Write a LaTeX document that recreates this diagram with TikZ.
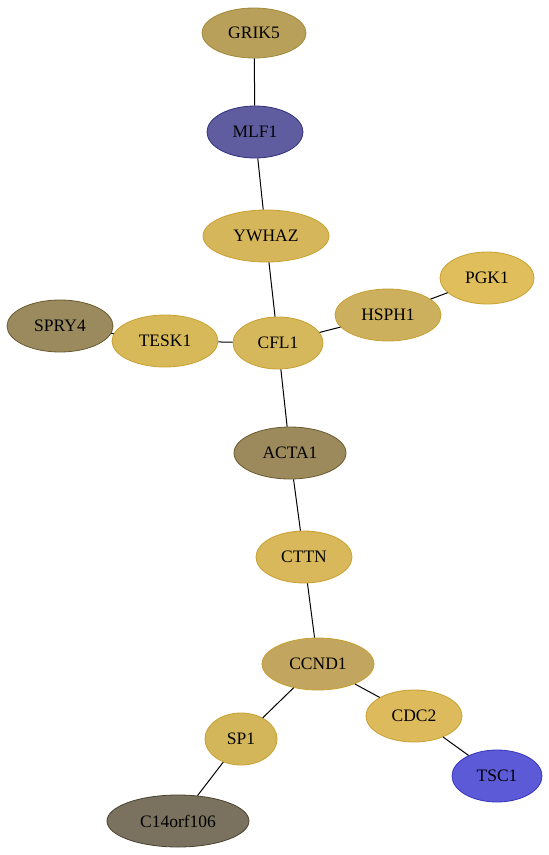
\documentclass[tikz,border=0pt]{standalone}
\usepackage{fontspec}
\setmainfont{Liberation Serif}
\usetikzlibrary{shapes.geometric}
\begin{document}
\begin{tikzpicture}[x=1pt,y=-1pt,
  gene/.style={ellipse,draw,line width=0.8pt,inner sep=0pt,font=\fontsize{17.5}{19}\selectfont},
  edge/.style={draw=black,line width=1pt}]
\useasboundingbox (0,0) rectangle (549,855);
\definecolor{cGRIK}{HTML}{B8A05A}\definecolor{bGRIK}{HTML}{A08838}
\definecolor{cMLF}{HTML}{5F5DA0}\definecolor{bMLF}{HTML}{30307E}
\definecolor{cY}{HTML}{D6B65A}\definecolor{bY}{HTML}{C8A030}
\definecolor{cPGK}{HTML}{E0BE5C}\definecolor{cHSP}{HTML}{CDB05E}
\definecolor{cSPRY}{HTML}{9A8A5E}\definecolor{bSPRY}{HTML}{6A5A30}
\definecolor{cTESK}{HTML}{D8B95A}\definecolor{cCFL}{HTML}{D6B85C}
\definecolor{cACTA}{HTML}{9C8A5C}\definecolor{cCTTN}{HTML}{D8B85A}
\definecolor{cCCND}{HTML}{C2A55E}\definecolor{cCDC}{HTML}{DDBB5C}
\definecolor{cSP}{HTML}{D4B65A}\definecolor{cTSC}{HTML}{5C5AD6}\definecolor{bTSC}{HTML}{3535C0}
\definecolor{cC14}{HTML}{7A725E}\definecolor{bC14}{HTML}{4A4230}
\node[gene,fill=cGRIK,draw=bGRIK,minimum width=104,minimum height=50] (GRIK5) at (254,33) {GRIK5};
\node[gene,fill=cMLF,draw=bMLF,minimum width=96,minimum height=52] (MLF1) at (255,132) {MLF1};
\node[gene,fill=cY,draw=bY,minimum width=126,minimum height=52] (YWHAZ) at (266,236) {YWHAZ};
\node[gene,fill=cPGK,draw=bY,minimum width=94,minimum height=52] (PGK1) at (487,278) {PGK1};
\node[gene,fill=cHSP,draw=bY,minimum width=106,minimum height=52] (HSPH1) at (388,315) {HSPH1};
\node[gene,fill=cSPRY,draw=bSPRY,minimum width=106,minimum height=52] (SPRY4) at (60,326) {SPRY4};
\node[gene,fill=cTESK,draw=bY,minimum width=106,minimum height=52] (TESK1) at (165,341) {TESK1};
\node[gene,fill=cCFL,draw=bY,minimum width=90,minimum height=52] (CFL1) at (278,343) {CFL1};
\node[gene,fill=cACTA,draw=bSPRY,minimum width=112,minimum height=52] (ACTA1) at (290,453) {ACTA1};
\node[gene,fill=cCTTN,draw=bY,minimum width=96,minimum height=52] (CTTN) at (304,557) {CTTN};
\node[gene,fill=cCCND,draw=bY,minimum width=112,minimum height=52] (CCND1) at (318,664) {CCND1};
\node[gene,fill=cCDC,draw=bY,minimum width=96,minimum height=52] (CDC2) at (414,716) {CDC2};
\node[gene,fill=cSP,draw=bY,minimum width=72,minimum height=52] (SP1) at (241,739) {SP1};
\node[gene,fill=cTSC,draw=bTSC,minimum width=90,minimum height=52] (TSC1) at (497,776) {TSC1};
\node[gene,fill=cC14,draw=bC14,minimum width=142,minimum height=52] (C14) at (178,821) {C14orf106};
\path[edge] (GRIK5) -- (MLF1);
\path[edge] (MLF1) -- (YWHAZ);
\path[edge] (YWHAZ) -- (CFL1);
\path[edge] (CFL1) -- (HSPH1);
\path[edge] (HSPH1) -- (PGK1);
\path[edge] (SPRY4) -- (TESK1);
\path[edge] (TESK1) -- (CFL1);
\path[edge] (CFL1) -- (ACTA1);
\path[edge] (ACTA1) -- (CTTN);
\path[edge] (CTTN) -- (CCND1);
\path[edge] (CCND1) -- (SP1);
\path[edge] (CCND1) -- (CDC2);
\path[edge] (CDC2) -- (TSC1);
\path[edge] (SP1) -- (C14);
\end{tikzpicture}
\end{document}
